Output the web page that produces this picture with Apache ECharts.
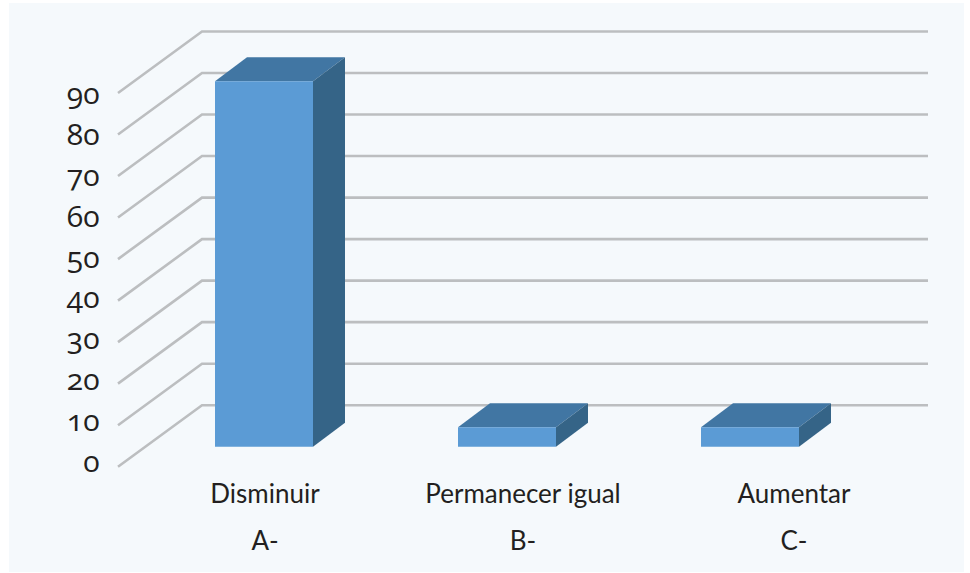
<!DOCTYPE html>
<html>
<head>
<meta charset="utf-8">
<style>
  html, body { margin: 0; padding: 0; background: #ffffff; }
  #chart { width: 970px; height: 573px; }
  #chart text { font-variant-numeric: oldstyle-nums; font-feature-settings: "onum" 1; }
</style>
<script src="https://cdn.jsdelivr.net/npm/echarts@6/dist/echarts.min.js"></script>
</head>
<body>
<div id="chart"></div>
<script>
const categories = ['Disminuir', 'Permanecer igual', 'Aumentar'];
const letters = ['A-', 'B-', 'C-'];
const values = [88, 4.7, 4.7];
const wallTicks = [0, 10, 20, 30, 40, 50, 60, 70, 80, 90];

// Oblique projection used for the floor and walls, in pixels
const DEPTH_X = 84, DEPTH_Y = 61.5;
const BAR_DEPTH_X = 32, BAR_DEPTH_Y = 24;
const BAR_WIDTH = 98, BAR_LIFT = 20;
const WALL_LEFT = 118, WALL_RIGHT = 928;
const LABEL_SHIFT = [2, 32, 88];

const chart = echarts.init(document.getElementById('chart'), null, { renderer: 'svg' });

function renderWall(params, api) {
  const p = api.coord([0, api.value(0)]);
  return {
    type: 'polyline',
    shape: { points: [[WALL_LEFT, p[1]], [WALL_LEFT + DEPTH_X, p[1] - DEPTH_Y], [WALL_RIGHT, p[1] - DEPTH_Y]] },
    style: { stroke: '#bcbec0', lineWidth: 2.6, fill: null }
  };
}

function renderBox(params, api) {
  const top = api.coord([api.value(0), api.value(1)]);
  const base = api.coord([api.value(0), 0]);
  const x0 = top[0] - BAR_WIDTH / 2, x1 = x0 + BAR_WIDTH;
  const y1 = base[1] - BAR_LIFT, y0 = top[1] - BAR_LIFT;
  const dx = BAR_DEPTH_X, dy = BAR_DEPTH_Y;
  return {
    type: 'group',
    children: [
      { type: 'polygon', shape: { points: [[x0, y0], [x1, y0], [x1 + dx, y0 - dy], [x0 + dx, y0 - dy]] }, style: { fill: '#4176a3' } },
      { type: 'polygon', shape: { points: [[x1, y0], [x1 + dx, y0 - dy], [x1 + dx, y1 - dy], [x1, y1]] }, style: { fill: '#356487' } },
      { type: 'rect', shape: { x: x0, y: y0, width: BAR_WIDTH, height: y1 - y0 }, style: { fill: '#5b9bd5' } }
    ]
  };
}

chart.setOption({
  animation: false,
  backgroundColor: '#ffffff',
  graphic: [{
    type: 'rect', z: -10, silent: true,
    shape: { x: 9, y: 3, width: 955, height: 569 },
    style: { fill: '#f5f9fc' }
  }],
  // The first grid carries the marks, the second one the printed value scale
  grid: [
    { left: 142.5, width: 729, top: 93, height: 373.7 },
    { left: 142.5, width: 729, top: 92.5, height: 368 }
  ],
  xAxis: [{
    type: 'category',
    gridIndex: 0,
    data: categories.map((c, i) => ({
      value: c + '\n' + letters[i],
      textStyle: { padding: [0, 0, 0, LABEL_SHIFT[i]] }
    })),
    axisLine: { show: false },
    axisTick: { show: false },
    axisLabel: {
      interval: 0, margin: 3, lineHeight: 47,
      fontFamily: 'Lato', fontSize: 26, color: '#231f20'
    }
  }, {
    type: 'category', gridIndex: 1, show: false, data: categories
  }],
  yAxis: [{
    type: 'value', gridIndex: 0, min: 0, max: 90, interval: 10,
    splitLine: { show: false }, axisLine: { show: false }, axisTick: { show: false },
    axisLabel: { show: false }
  }, {
    type: 'value', gridIndex: 1, min: 0, max: 90, interval: 10,
    splitLine: { show: false }, axisLine: { show: false }, axisTick: { show: false },
    axisLabel: { margin: 43, fontFamily: 'Open Sans', fontSize: 30, color: '#231f20' }
  }],
  series: [
    { type: 'custom', z: 1, silent: true, xAxisIndex: 0, yAxisIndex: 0, renderItem: renderWall, data: wallTicks.map(v => [v]), encode: { x: 0, y: 0 }, clip: false },
    { type: 'custom', z: 2, silent: true, xAxisIndex: 0, yAxisIndex: 0, renderItem: renderBox, data: values.map((v, i) => [i, v]), encode: { x: 0, y: 1 }, clip: false }
  ]
});
</script>
</body>
</html>
